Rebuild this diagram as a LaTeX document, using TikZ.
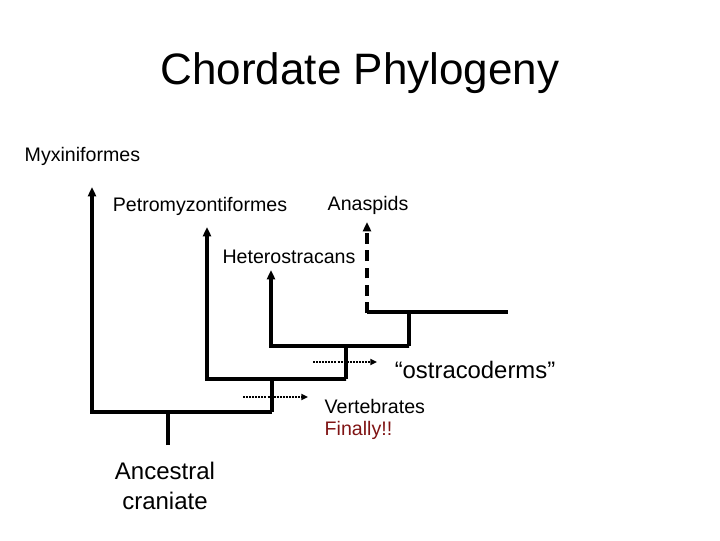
\documentclass[tikz,border=0pt]{standalone}
\usepackage{fontspec}
\setmainfont{Liberation Sans}
\usetikzlibrary{arrows.meta}
\definecolor{darkred}{RGB}{128,20,20}
\begin{document}
\begin{tikzpicture}[x=0.75pt,y=-0.75pt,
  br/.style={line width=2.8pt},
  ar/.style={br,-{Triangle[length=7pt,width=6pt]}},
  dar/.style={line width=2.8pt,dash pattern=on 8pt off 5pt,-{Triangle[length=7pt,width=6pt]}},
  dot/.style={line width=2pt,dash pattern=on 1.5pt off 0.8pt,-{Triangle[length=5pt,width=4.5pt]}},
  lab/.style={font=\fontsize{14.7}{17}\selectfont}]
\useasboundingbox (0,0) rectangle (720,540);
\node[font=\fontsize{33}{38}\selectfont] (title) at (360,73) {Chordate Phylogeny};
\node[lab,anchor=west] (myx) at (20,156) {Myxiniformes};
\node[lab] (pet) at (200,206) {Petromyzontiformes};
\node[lab] (ana) at (368,205) {Anaspids};
\node[lab] (het) at (289,257) {Heterostracans};
\node[font=\fontsize{17.9}{21}\selectfont] (ost) at (475,370) {“ostracoderms”};
\node[lab,anchor=west] (vert) at (320,406) {Vertebrates};
\node[lab,anchor=west,text=darkred] (fin) at (320,430) {Finally!!};
\node[font=\fontsize{18}{22}\selectfont,align=center] (anc) at (165,486) {Ancestral\\ craniate};
\coordinate (r0) at (168,445);
\coordinate (r1) at (168,412);
\draw[br] (r0) -- (r1);
\draw[ar] (272,412) -- (92,412) -- (92,187);
\draw[ar] (272,412) -- (272,379) -- (346,379) -- (207,379) -- (207,227);
\draw[ar] (346,379) -- (346,346) -- (409,346) -- (271,346) -- (271,270);
\draw[br] (409,346) -- (409,312) -- (508,312);
\draw[br] (409,312) -- (367,312);
\draw[dar] (367,313) -- (367,222);
\draw[dot] (313,362) -- (377,362);
\draw[dot] (243,397) -- (308,397);
\end{tikzpicture}
\end{document}
